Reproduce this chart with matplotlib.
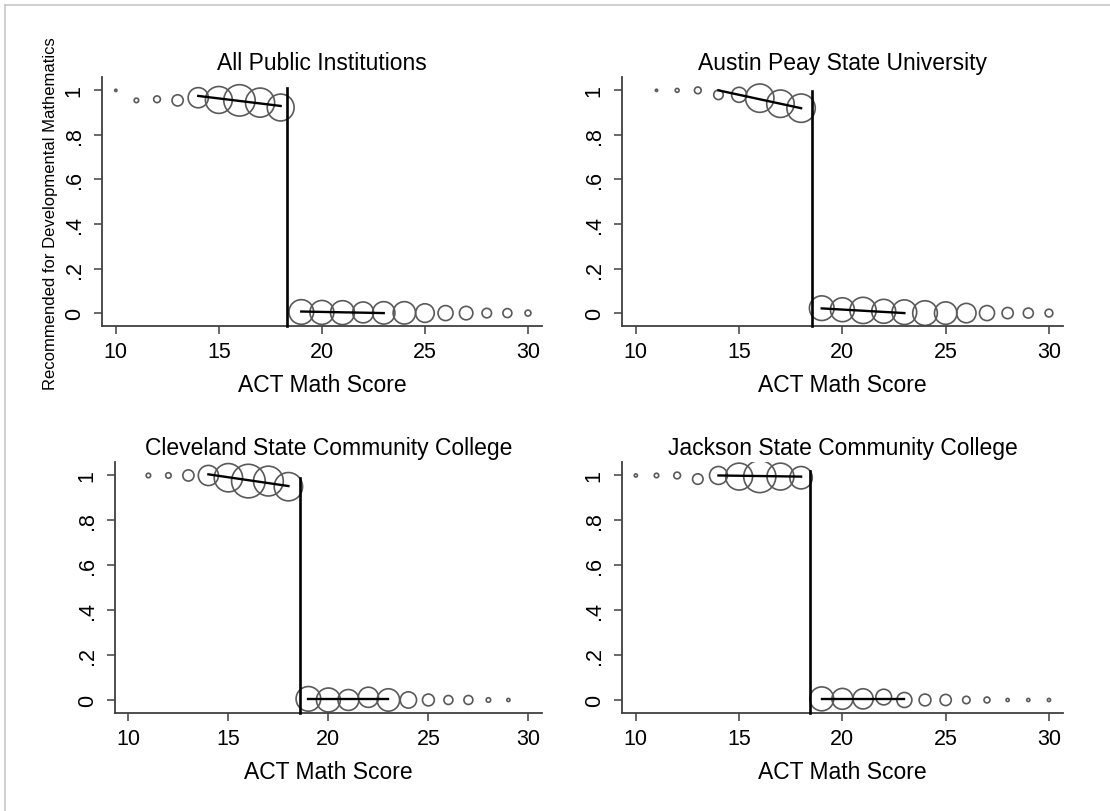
import numpy as np
import matplotlib
matplotlib.use("Agg")
import matplotlib.pyplot as plt
from matplotlib.lines import Line2D

plt.rcParams['font.family'] = ['Liberation Sans', 'DejaVu Sans']

# ACT math score bins below / above the placement cutoff
score_lo_all = [10, 11, 12, 13, 14, 15, 16, 17, 18]
score_lo_11 = [11, 12, 13, 14, 15, 16, 17, 18]
score_hi_30 = [19, 20, 21, 22, 23, 24, 25, 26, 27, 28, 29, 30]
score_hi_29 = [19, 20, 21, 22, 23, 24, 25, 26, 27, 28, 29]

# All Public Institutions
all_lo_y = [1.0, 0.955, 0.96, 0.955, 0.967, 0.957, 0.955, 0.945, 0.923]
all_lo_n = [1, 4, 9, 25, 81, 144, 196, 169, 144]
all_hi_y = [0.005, 0.003, 0.002, 0.003, 0.001, 0.001, 0, 0, 0, 0, 0, 0]
all_hi_n = [121, 114, 114, 87, 100, 100, 69, 45, 36, 18, 16, 7]
all_fit_lo = [0.975, 0.930]
all_fit_hi = [0.007, 0.0]
all_cut = 18.29
all_cut_top = 1.01

# Austin Peay State University
apsu_lo_y = [1.0, 1.0, 1.0, 0.98, 0.98, 0.965, 0.94, 0.92]
apsu_lo_n = [1, 3, 9, 18, 45, 160, 150, 160]
apsu_hi_y = [0.022, 0.015, 0.012, 0.008, 0.004, 0, 0, 0, 0, 0, 0, 0]
apsu_hi_n = [121, 114, 137, 114, 121, 121, 100, 75, 45, 25, 20, 12]
apsu_fit_lo = [1.0, 0.92]
apsu_fit_hi = [0.021, 0.0]
apsu_cut = 18.54
apsu_cut_top = 0.995

# Cleveland State Community College
cscc_lo_y = [1.0, 1.0, 1.0, 1.0, 0.99, 0.975, 0.975, 0.95]
cscc_lo_n = [4, 6, 25, 81, 160, 225, 177, 160]
cscc_hi_y = [0.005, 0.0, 0.0, 0.012, 0.0, 0, 0, 0, 0, 0, 0]
cscc_hi_n = [121, 114, 87, 81, 100, 53, 28, 16, 16, 4, 2]
cscc_fit_lo = [1.005, 0.953]
cscc_fit_hi = [0.004, 0.004]
cscc_cut = 18.6
cscc_cut_top = 0.99

# Jackson State Community College
jscc_lo_y = [1.0, 1.0, 1.0, 0.984, 1.0, 0.995, 0.995, 0.995, 0.99]
jscc_lo_n = [2, 4, 9, 22, 64, 144, 205, 144, 100]
jscc_hi_y = [0.005, 0.005, 0.005, 0.013, 0.0, 0, 0, 0, 0, 0, 0, 0]
jscc_hi_n = [114, 87, 81, 49, 45, 28, 25, 11, 7, 2, 2, 2]
jscc_fit_lo = [1.0, 0.995]
jscc_fit_hi = [0.005, 0.005]
jscc_cut = 18.45
jscc_cut_top = 1.02

fit_x_lo = [14, 18]
fit_x_hi = [19, 23]

titles = ["All Public Institutions", "Austin Peay State University",
          "Cleveland State Community College", "Jackson State Community College"]
x_ticks = [10, 15, 20, 25, 30]
y_ticks = [0, 0.2, 0.4, 0.6, 0.8, 1.0]
y_tick_labels = ["0", ".2", ".4", ".6", ".8", "1"]

panels = [
    (score_lo_all, all_lo_y, all_lo_n, score_hi_30, all_hi_y, all_hi_n,
     all_fit_lo, all_fit_hi, all_cut, all_cut_top),
    (score_lo_11, apsu_lo_y, apsu_lo_n, score_hi_30, apsu_hi_y, apsu_hi_n,
     apsu_fit_lo, apsu_fit_hi, apsu_cut, apsu_cut_top),
    (score_lo_11, cscc_lo_y, cscc_lo_n, score_hi_29, cscc_hi_y, cscc_hi_n,
     cscc_fit_lo, cscc_fit_hi, cscc_cut, cscc_cut_top),
    (score_lo_all, jscc_lo_y, jscc_lo_n, score_hi_30, jscc_hi_y, jscc_hi_n,
     jscc_fit_lo, jscc_fit_hi, jscc_cut, jscc_cut_top),
]

W, H = 1110, 812
fig = plt.figure(figsize=(W / 100, H / 100), dpi=100)

# axes boxes in pixels: left, top, right, bottom
boxes = [(102, 78, 542, 327), (622, 78, 1063, 327),
         (115, 463, 542, 714), (622, 463, 1063, 714)]

edge = '#5a5a5a'
size_k = 2.6

for i, (box, p) in enumerate(zip(boxes, panels)):
    l, t, r, b = box
    ax = fig.add_axes([l / W, (H - b) / H, (r - l) / W, (b - t) / H])
    xl, yl, nl, xh, yh, nh, fl, fh, cut, cut_top = p

    ax.scatter(xl, yl, s=np.array(nl) * size_k, facecolors='none',
               edgecolors=edge, linewidths=1.2, zorder=2)
    ax.scatter(xh, yh, s=np.array(nh) * size_k, facecolors='none',
               edgecolors=edge, linewidths=1.2, zorder=2)
    ax.plot(fit_x_lo, fl, color='black', lw=1.7, zorder=3)
    ax.plot(fit_x_hi, fh, color='black', lw=1.7, zorder=3)

    ax.set_xlim(9.33, 30.68)
    ax.set_ylim(-0.058, 1.06)
    ax.plot([cut, cut], [-0.058, cut_top], color='black', lw=1.9,
            zorder=4, clip_on=False)

    for s in ['top', 'right']:
        ax.spines[s].set_visible(False)
    for s in ['left', 'bottom']:
        ax.spines[s].set_color('#404040')
        ax.spines[s].set_linewidth(1.3)

    ax.set_xticks(x_ticks)
    ax.set_yticks(y_ticks)
    ax.set_yticklabels(y_tick_labels, rotation=90, va='center')
    ax.tick_params(axis='both', direction='out', length=6, width=1.1,
                   color='#404040', labelsize=15.5, pad=5)
    ax.tick_params(axis='y', pad=6.5)
    ax.set_xlabel("ACT Math Score", fontsize=16.5, labelpad=8)
    ax.set_title(titles[i], fontsize=16.5, pad=6)

    if i == 0:
        ax.set_ylabel("Recommended for Developmental Mathematics",
                      fontsize=12)
        ax.yaxis.set_label_coords(-0.10, 0.455)

# outer frame (only top and left edges show in the image)
fig.add_artist(Line2D([5 / W, 5 / W], [0, 1 - 6 / H], color='#c8c8c8',
                      lw=1.2, transform=fig.transFigure))
fig.add_artist(Line2D([5 / W, 1], [1 - 6 / H, 1 - 6 / H], color='#c8c8c8',
                      lw=1.2, transform=fig.transFigure))

fig.savefig("out.png", dpi=100, facecolor='white')
